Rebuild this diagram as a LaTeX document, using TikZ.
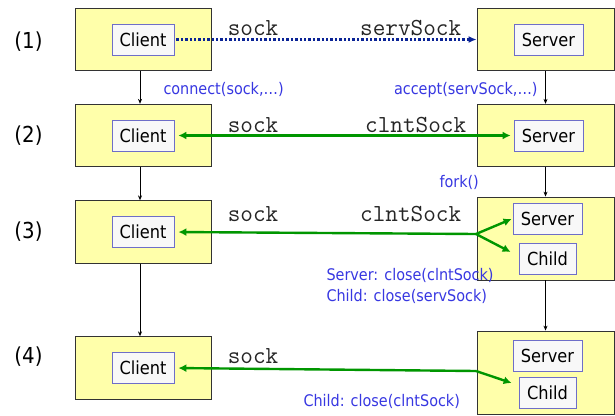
\documentclass[tikz,border=0pt]{standalone}
\usepackage{fontspec}
\setmainfont{DejaVu Sans Condensed}
\usetikzlibrary{arrows.meta,positioning}

\definecolor{boxyellow}{RGB}{255,255,170}
\definecolor{rolefill}{RGB}{248,248,248}
\definecolor{roleline}{RGB}{110,110,200}
\definecolor{calltext}{RGB}{55,55,225}
\definecolor{connline}{RGB}{10,35,150}
\definecolor{sockline}{RGB}{0,150,0}

\tikzset{
  proc/.style={draw=black!80,fill=boxyellow,line width=0.8pt,inner sep=0pt},
  role/.style={draw=roleline,fill=rolefill,line width=0.8pt,inner sep=0pt,
    minimum height=31pt,font=\fontsize{18}{20}\selectfont},
  stepno/.style={font=\fontsize{22}{24}\selectfont},
  sockname/.style={text=black!85,font=\fontsize{24.5}{26}\ttfamily},
  call/.style={text=calltext,font=\fontsize{16}{21}\selectfont,inner sep=0pt},
  flow/.style={-{Stealth[length=5pt,width=4pt]},line width=0.8pt},
  sock/.style={draw=sockline,line width=2.4pt,-{Latex[length=8pt,width=8pt]}},
}

\begin{document}
\begin{tikzpicture}[x=1pt,y=-1pt,line width=1pt]
  \useasboundingbox (0,0) rectangle (615,415);

  % client side
  \foreach \r/\y/\ny in {1/39.5/42,2/135.5/136,3/232/232,4/368/357}{
    \node[proc,minimum width=136pt,minimum height=62.5pt] (c\r) at (143,\y) {};
    \node[role,minimum width=62pt] (cl\r) at (143,\y) {Client};
    \node[stepno] (n\r) at (28.5,\ny) {(\r)};
  }
  \foreach \a/\b in {1/2,2/3,3/4}
    \draw[flow] ([xshift=-3pt]c\a.south) -- ([xshift=-3pt]c\b.north);

  % server side
  \node[proc,minimum width=137pt,minimum height=62.5pt] (s1) at (545.5,39.5) {};
  \node[proc,minimum width=137pt,minimum height=62.5pt] (s2) at (545.5,135.5) {};
  \node[proc,minimum width=137pt,minimum height=83pt] (s3) at (545.5,238.5) {};
  \node[proc,minimum width=137pt,minimum height=83pt] (s4) at (545.5,372.5) {};

  \node[role,minimum width=69pt] (sv1) at (548.5,39.5) {Server};
  \node[role,minimum width=69pt] (sv2) at (548.5,135.5) {Server};
  \node[role,minimum width=69pt] (sv3) at (547.5,219) {Server};
  \node[role,minimum width=57pt] (ch3) at (547.5,259) {Child};
  \node[role,minimum width=69pt] (sv4) at (547.5,355.5) {Server};
  \node[role,minimum width=57pt] (ch4) at (547.5,393) {Child};

  \foreach \a/\b in {1/2,2/3,3/4}
    \draw[flow] (s\a.south) -- (s\b.north);

  % sockets
  \draw[line width=2.4pt,connline,dash pattern=on 2.4pt off 2pt,
    -{Latex[length=8pt,width=7pt]},shorten <=2pt] (cl1.east) -- (s1.west);
  \draw[sock,{Latex[length=8pt,width=8pt]}-{Latex[length=8pt,width=8pt]},
    shorten <=4pt,shorten >=3pt] (cl2.east) -- (sv2.west);

  \coordinate (b3) at (476,234);
  \coordinate (b4) at (476,371);
  \draw[sock,shorten >=4pt] (b3) -- (cl3.east);
  \draw[sock] (b3) -- ([xshift=-1pt]sv3.west);
  \draw[sock] (b3) -- ([shift={(-8,-7)}]ch3.west);
  \draw[sock,shorten >=4pt] (b4) -- (cl4.east);
  \draw[sock] (b4) -- ([shift={(-7,-10)}]ch4.west);

  % names
  \node[sockname,anchor=base west] (k1) at (224,35) {sock};
  \node[sockname,anchor=base east] (k2) at (465,35) {servSock};
  \node[sockname,anchor=base west] (k3) at (224,132) {sock};
  \node[sockname,anchor=base east] (k4) at (470,132) {clntSock};
  \node[sockname,anchor=base west] (k5) at (224,221) {sock};
  \node[sockname,anchor=base east] (k6) at (465,221) {clntSock};
  \node[sockname,anchor=base west] (k7) at (224,363) {sock};

  % calls
  \node[call,anchor=base west] (t1) at (163,94) {connect(sock,…)};
  \node[call,anchor=base east] (t2) at (538,94) {accept(servSock,…)};
  \node[call,anchor=base west] (t3) at (439,187) {fork()};
  \node[call,anchor=base west,align=left] (t4) at (326,301)
    {Server: close(clntSock)\\Child: close(servSock)};
  \node[call,anchor=base west] (t5) at (303,406) {Child: close(clntSock)};
\end{tikzpicture}
\end{document}
